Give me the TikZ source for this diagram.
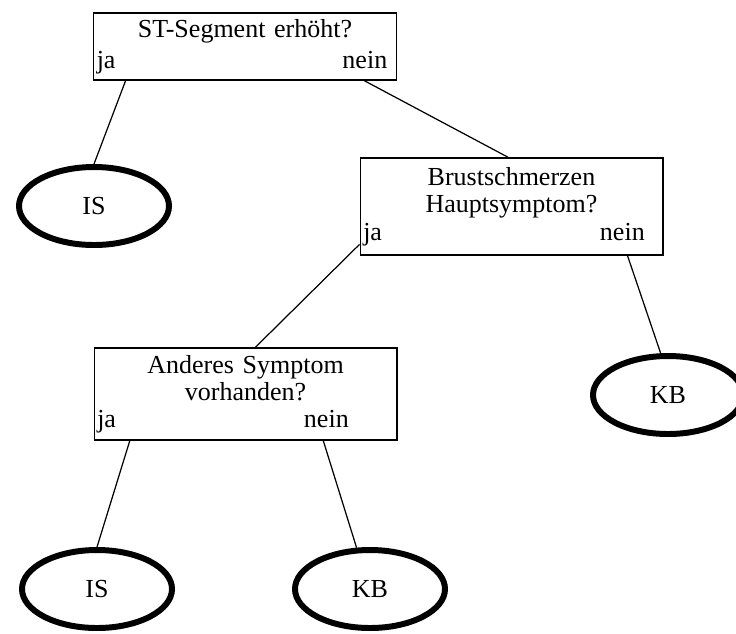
\documentclass[tikz,border=0pt]{standalone}
\usepackage{fontspec}
\setmainfont{Liberation Serif}
\usetikzlibrary{shapes.geometric}

\begin{document}
\begin{tikzpicture}[
    frage/.style={draw, line width=0.85pt, rectangle, text width=5.93cm, inner xsep=0.06cm, inner ysep=0pt, text centered, font=\fontsize{14.8}{15.5}\selectfont},
    blatt/.style={draw, line width=3.4pt, ellipse, minimum width=3.0cm, minimum height=1.56cm, inner sep=0pt, font=\fontsize{14.8}{15.5}\selectfont},
    kante/.style={line width=0.7pt}
]
    \useasboundingbox (0,0) rectangle (14.72,-12.66);

    \node[frage, minimum height=1.34cm] (erhoeht) at (4.90,-0.93) {ST-Segment erhöht?\\[0.07cm] \makebox[\linewidth]{ja\hfill nein\hspace{0.12cm}}};
    
    \node[frage, minimum height=1.94cm] (brust) at (10.23,-4.13) {Brustschmerzen\\ Hauptsymptom?\\ \makebox[\linewidth]{ja\hfill nein\hspace{0.30cm}}};
    
    \node[frage, minimum height=1.84cm] (anderes) at (4.91,-7.88) {Anderes Symptom\\ vorhanden?\\ \makebox[\linewidth]{ja\hfill nein\hspace{0.90cm}}};

    \node[blatt] (is1) at (1.88,-4.12) {IS};
    \node[blatt] (kb1) at (13.36,-7.90) {KB};
    \node[blatt] (is2) at (1.94,-11.78) {IS};
    \node[blatt] (kb2) at (7.40,-11.78) {KB};

    \draw[kante] (erhoeht.-164) -- (is1.north);
    \draw[kante] (erhoeht.-16) -- (brust.94);
    \draw[kante] (brust.-166) -- (anderes.78);
    \draw[kante] (brust.-23) -- (kb1.100);
    \draw[kante] (anderes.-158) -- (is2.north);
    \draw[kante] (anderes.-31) -- (kb2.108);

\end{tikzpicture}
\end{document}
